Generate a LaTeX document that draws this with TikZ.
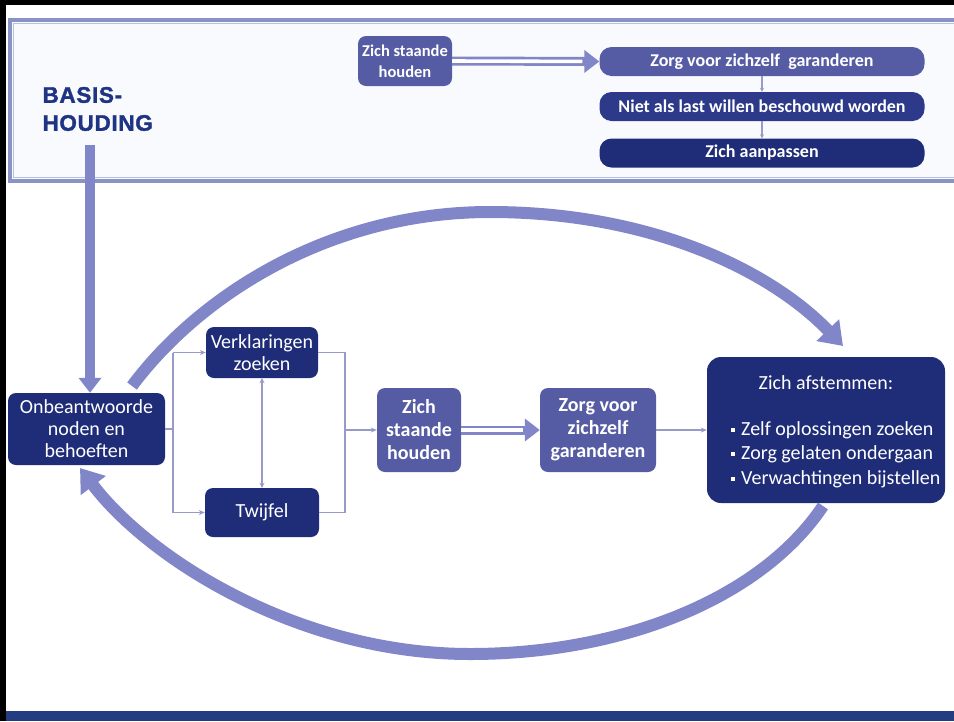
\documentclass[tikz,border=0pt]{standalone}
\usepackage{fontspec}
\setmainfont{Carlito}
\newfontfamily\heavyfont{Liberation Sans}[BoldFeatures={FakeBold=1.6}, LetterSpace=3]
\usetikzlibrary{arrows.meta}
\definecolor{navy}{RGB}{31,45,120}
\definecolor{medblue}{RGB}{86,92,163}
\definecolor{nietblue}{RGB}{45,58,138}
\definecolor{lav}{RGB}{128,134,200}
\definecolor{conn}{RGB}{150,155,200}
\definecolor{panelborder}{RGB}{138,148,196}
\definecolor{panelinner}{RGB}{185,192,222}
\definecolor{panelfill}{RGB}{249,250,254}
\definecolor{band}{RGB}{35,60,130}
\definecolor{basisblue}{RGB}{32,52,132}
\newcommand\bul{\raisebox{3.5pt}{\rule{4pt}{4pt}}\hspace{6pt}}
\tikzset{
  boxbase/.style={rounded corners=8pt, text=white, align=center, inner sep=0pt},
  navybox/.style={boxbase, fill=navy, font=\fontsize{20}{22}\selectfont},
  medbox/.style={boxbase, fill=medblue, font=\bfseries\fontsize{20}{23}\selectfont},
  pill/.style={boxbase, rounded corners=12pt, minimum width=325pt, minimum height=29pt, font=\bfseries\fontsize{18}{20}\selectfont},
  topbox/.style={boxbase, fill=medblue, font=\bfseries\fontsize{16.5}{21}\selectfont},
  thinconn/.style={draw=conn, line width=1.2pt},
  tip/.style={-{Stealth[length=6pt,width=5pt]}},
  smalltip/.style={-{Stealth[length=4pt,width=4pt]}},
  dblshaft/.style={draw=lav, line width=9pt, -{Triangle[length=15pt,width=22pt]}},
  dblgap/.style={draw=white, line width=3.6pt, shorten >=17pt},
  bigarrow/.style={draw=lav, line width=12pt, -{Triangle[length=22pt,width=30pt]}},
}
\begin{document}
\begin{tikzpicture}[x=1pt,y=-1pt]
\useasboundingbox (0,0) rectangle (954,721);
\fill[white] (0,0) rectangle (954,721);
\fill[black] (0,0) rectangle (954,5);
\fill[black] (0,0) rectangle (6,721);
\fill[band] (6,711) rectangle (954,721);
% top panel
\draw[panelborder, line width=4pt, fill=panelfill] (9.5,19.5) rectangle (962,180.5);
\draw[panelinner, line width=1pt] (13,23) rectangle (962,177);

\node[anchor=west, align=left, text=basisblue, font=\heavyfont\bfseries\fontsize{22.5}{28}\selectfont] (bh) at (39,109) {BASIS-\\HOUDING};

\node[topbox, minimum width=94pt, minimum height=50pt] (ts) at (405,61) {Zich staande\\houden};
\node[pill, fill=medblue] (tz) at (762,61.5) {Zorg voor zichzelf\ \ garanderen};
\node[pill, fill=nietblue] (tn) at (762,106.5) {Niet als last willen beschouwd worden};
\node[pill, fill=navy] (ta) at (762,153) {Zich aanpassen};

\draw[dblshaft] (ts.east) -- (tz.west);
\draw[dblgap] (ts.east) -- (tz.west);
\draw[thinconn, smalltip] (tz.south) -- (tn.north);
\draw[thinconn, smalltip] (tn.south) -- (ta.north);

% main nodes
\node[navybox, minimum width=157pt, minimum height=72pt] (on) at (86.5,429) {Onbeantwoorde\\noden en\\behoeften};
\node[navybox, minimum width=112pt, minimum height=51pt] (vk) at (262,352.5) {Verklaringen\\zoeken};
\node[navybox, minimum width=114pt, minimum height=49pt] (tw) at (262,512.5) {Twijfel};
\node[medbox, minimum width=84pt, minimum height=84pt] (zs) at (419,430) {Zich\\staande\\houden};
\node[medbox, minimum width=116pt, minimum height=84pt] (zz) at (598,430) {Zorg voor\\zichzelf\\garanderen};
\node[navybox, rounded corners=14pt, minimum width=238pt, minimum height=146pt] (af) at (826,430) {};
\node[text=white, font=\fontsize{20}{22}\selectfont] (afh) at (826,383) {Zich afstemmen:};
\node[anchor=west, align=left, text=white, inner sep=0pt, font=\fontsize{20}{24.5}\selectfont] (afl) at (731,454.5) {\bul Zelf oplossingen zoeken\\\bul Zorg gelaten ondergaan\\\bul Verwachtingen bijstellen};

% thin connectors
\coordinate (j1t) at (173,352.5);
\coordinate (j1b) at (173,512.5);
\coordinate (j2t) at (345,352.5);
\coordinate (j2b) at (345,512.5);
\draw[thinconn] (on.east) -- (on.east -| j1t);
\draw[thinconn] (j1t) -- (j1b);
\draw[thinconn, tip] (j1t) -- (vk.west);
\draw[thinconn, tip] (j1b) -- (tw.west);
\draw[thinconn] (vk.east) -- (j2t) -- (j2b) -- (tw.east);
\draw[thinconn, tip] (j2t |- zs.west) -- (zs.west);
\draw[thinconn, {Stealth[length=5pt,width=5pt]}-{Stealth[length=5pt,width=5pt]}] (vk.south) -- (tw.north);
\draw[dblshaft] (zs.east) -- (zz.west);
\draw[dblgap] (zs.east) -- (zz.west);
\draw[thinconn, tip] (zz.east) -- (af.west);

% thick arrows
\coordinate (vs) at (90,145);
\draw[draw=lav, line width=10pt, -{Triangle[length=15pt,width=22pt]}] (vs) -- (vs |- on.north);

\coordinate (a1s) at (132,386);
\coordinate (a1m) at (490,212);
\coordinate (a1e) at (843,346);
\draw[bigarrow] (a1s) .. controls (200,295) and (330,212) .. (a1m) .. controls (650,212) and (770,270) .. (a1e);

\coordinate (a2s) at (823,506);
\coordinate (a2m) at (470,654);
\coordinate (a2e) at (80,468);
\draw[bigarrow] (a2s) .. controls (760,600) and (620,654) .. (a2m) .. controls (300,654) and (150,560) .. (a2e);
\end{tikzpicture}
\end{document}
